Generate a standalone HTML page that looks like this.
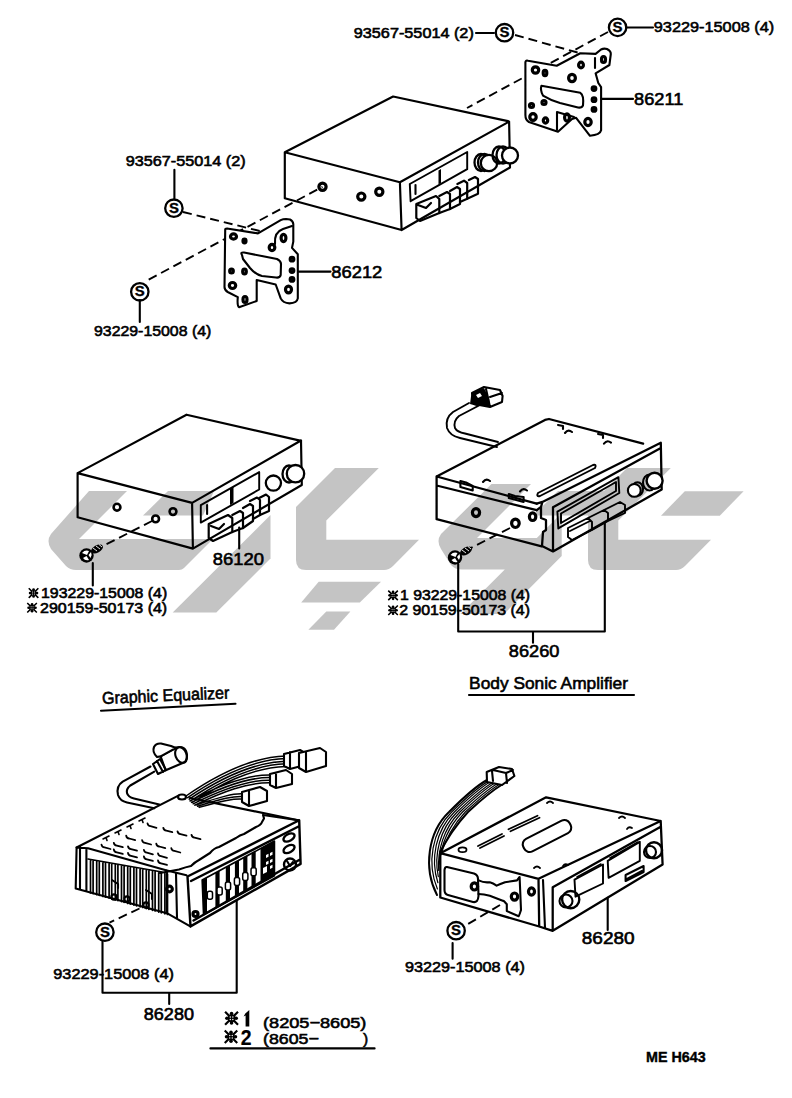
<!DOCTYPE html>
<html><head><meta charset="utf-8">
<style>
html,body{margin:0;padding:0;background:#fff;width:792px;height:1098px;overflow:hidden}
svg{display:block}
text{font-family:"Liberation Sans",sans-serif;font-weight:normal;fill:#000;stroke:#000;stroke-width:0.6px}
.l{fill:none;stroke:#000;stroke-width:2.1;stroke-linejoin:round;stroke-linecap:round}
.t{fill:none;stroke:#000;stroke-width:1.4;stroke-linejoin:round;stroke-linecap:round}
.d{fill:none;stroke:#000;stroke-width:1.9;stroke-dasharray:9 5}
.h{fill:none;stroke:#000;stroke-width:3.2}
.f{fill:#000;stroke:none}
text.s{font-weight:bold;stroke-width:0.3px}
.c{fill:none;stroke:#000;stroke-width:2.3}
.w{fill:#c4c4c4;stroke:none}
</style></head>
<body>
<svg width="792" height="1098" viewBox="0 0 792 1098">
<defs><symbol id="kome" viewBox="0 0 12 12"><path d="M1,1 L11,11 M11,1 L1,11" stroke="#000" stroke-width="1.7" fill="none"/><circle cx="6" cy="6" r="3.1" fill="#000"/><circle cx="6" cy="2.4" r="1.4" fill="#000"/><circle cx="6" cy="9.6" r="1.4" fill="#000"/><circle cx="2.4" cy="6" r="1.4" fill="#000"/><circle cx="9.6" cy="6" r="1.4" fill="#000"/><circle cx="5" cy="5" r="0.55" fill="#fff"/><circle cx="7" cy="5" r="0.55" fill="#fff"/><circle cx="5" cy="7" r="0.55" fill="#fff"/><circle cx="7" cy="7" r="0.55" fill="#fff"/></symbol></defs>
<rect width="792" height="1098" fill="#fff"/>
<!-- WATERMARK -->
<g class="w">
<path d="M89,491 L127,491 L79,539 L213,539 L184,568 Q182,570 179,570 L76,570 Q70,570 66,566 L51,549 Q46,541 51,534 Z"/>
<path d="M168,491 L214,491 L203,515.6 L143,515.6 Z"/>
<path d="M270.5,515 L270.5,558.6 L216.3,612.6 L172.7,612.6 Z"/>
<path d="M335,468 L378.8,468 L326.3,520.5 L326.3,539.8 L419,539.8 L393,566 Q389,570 384,570 L306,570 Q296,570 296,560 L296,507 Z"/>
<path d="M318.7,581.7 L381,581.7 L359.8,602.5 L301.2,602.5 Z"/>
<path d="M326.3,611.5 L350.4,611.5 L334,629.8 L308.4,629.8 Z"/>
<path d="M491.5,484 L531,484 L477,538 L536.8,538 L561.7,513 L561.7,556 L504,614 L460.3,614 L504.8,569.5 L462,569.5 Q455,569.5 451,565 L441,549 Q436,541 441,534 Z"/>
<path d="M558,491 L604,491 L593,515.6 L533,515.6 Z"/>
<path d="M627,468 L670.8,468 L618.3,520.5 L618.3,539.8 L711,539.8 L685,566 Q681,570 676,570 L598,570 Q588,570 588,560 L588,507 Z"/>
<path d="M684.8,491.2 L743.6,491.2 L719.8,515.7 L661,515.7 Z"/>
</g>

<!-- TOP SECTION -->
<g id="top">
<!-- labels -->
<text x="353.8" y="37.8" font-size="14.7" textLength="120" lengthAdjust="spacingAndGlyphs">93567-55014 (2)</text>
<path class="l" d="M476,33 L494,33"/>
<circle class="c" cx="504.5" cy="32.7" r="8.7"/>
<text class="s" x="504.5" y="37.3" font-size="15" text-anchor="middle">S</text>
<path class="d" d="M515,35 L590,56"/>
<text x="653.8" y="31.8" font-size="15.5" textLength="120.4" lengthAdjust="spacingAndGlyphs">93229-15008 (4)</text>
<circle class="c" cx="617.6" cy="27.4" r="8.7"/>
<text class="s" x="617.5" y="32.0" font-size="15" text-anchor="middle">S</text>
<path class="l" d="M626,27.5 L653,27.5"/>
<path class="d" d="M608,32 L467,108"/>

<text x="125.7" y="166" font-size="14.7" textLength="120" lengthAdjust="spacingAndGlyphs">93567-55014 (2)</text>
<path class="l" d="M174.4,169.8 L174.4,198.6"/>
<circle class="c" cx="173.9" cy="208.2" r="8.7"/>
<text class="s" x="173.9" y="212.8" font-size="15" text-anchor="middle">S</text>
<path class="d" d="M183,212 L276,235"/>
<circle class="c" cx="139.8" cy="291.8" r="8.7"/>
<text class="s" x="139.8" y="296.4" font-size="15" text-anchor="middle">S</text>
<path class="l" d="M139.8,300 L139.8,322"/>
<text x="94" y="336.2" font-size="15" textLength="117.3" lengthAdjust="spacingAndGlyphs">93229-15008 (4)</text>
<path class="d" d="M148.7,279.6 L322.5,186.8"/>

<!-- bracket 86212 -->
<path class="l" style="fill:#fff" d="M225.2,230 Q225,228.5 227,228.5 L258,233.4 L280.7,220.1 Q283,219 286,219 L290,219.5 Q293,221 293.3,224 L293.3,241.6 L292,247.9 L297.8,254.2 L297.8,298.4 Q297,303 289.5,303.4 Q283,303 280.7,298.4 L275.7,284.5 L256.7,280 L256.7,301 L239,307.2 Q237,306 237.8,297.1 L227.7,292 Q224.5,290 224.5,287 Z"/>
<path class="l" d="M242,255 Q240,252 244,252.5 L277,259 Q281,261 281,264 L280.7,275 Q280,278 276,277.5 L262,276 Q256,275 250,268 L243,259 Z"/>
<path class="l" d="M275,244 Q274,232 283,229 L292,226"/>
<g class="h">
<ellipse cx="233.5" cy="236.5" rx="3" ry="2.6"/><ellipse cx="244.5" cy="241" rx="1.5" ry="1.8"/>
<ellipse cx="272" cy="247.5" rx="2.8" ry="3.2"/><ellipse cx="283.5" cy="238" rx="2.4" ry="3.6"/>
<ellipse cx="231.5" cy="271" rx="1.8" ry="2"/><ellipse cx="244.5" cy="271.5" rx="1.8" ry="2.5"/>
<ellipse cx="232.5" cy="285.5" rx="3.2" ry="3"/><ellipse cx="245" cy="299.5" rx="2" ry="3"/>
<ellipse cx="292" cy="259.2" rx="1.8" ry="1.8"/><ellipse cx="292" cy="270.6" rx="1.8" ry="1.8"/><ellipse cx="292" cy="279.4" rx="1.8" ry="1.8"/>
<ellipse cx="288.5" cy="289.5" rx="3" ry="3.4"/>
</g>
<path class="l" d="M298,271.6 L330.5,271.6"/>
<text x="331.3" y="278.4" font-size="17" textLength="51" lengthAdjust="spacingAndGlyphs">86212</text>

<!-- radio box A -->
<path class="l" style="stroke-width:2.16" d="M284.8,152.3 L393.1,96.5 L508,121.1 M284.8,152.3 L399.9,182.3 L509.1,121.6 L510,167.5 L401.6,230 L399.9,182.3 M284.8,152.3 L284.8,198.3 L401.6,230"/>
<path class="l" style="stroke-width:1.92" d="M409.8,184 L467.2,152 L467.2,169.2 L410.6,201.2 Z"/>
<path class="f" d="M438.5,170.5 L441,169 L441,183 L438.5,184.5 Z"/>
<path class="l" d="M415.5,185 L415.5,194"/>
<g class="l" style="stroke-width:2.2">
<path d="M416.3,204 L436,196 L439.3,199 L439.3,213 L420,221 L416.3,218 Z M418,205 L426,208 L431,203"/>
<path d="M439.3,196 L447,192 L450,194 L450,209 L439.3,213"/>
<path d="M450,191 L457,187 L460,189 L460,204 L450,209"/>
<path d="M457.4,184 L464,180.7 L467.2,183 L467.2,198.7 L460,202"/>
<path d="M468.9,180 L475,177 L478,179 L478,193.8 L467.2,198.7"/>
</g>
<g class="l" style="stroke-width:2.3">
<ellipse cx="481" cy="162.5" rx="6.5" ry="8.5"/><ellipse cx="484.5" cy="162.5" rx="6.5" ry="8.5"/>
<circle cx="489" cy="163" r="8.2" fill="#fff"/>
<ellipse cx="499" cy="155" rx="6.5" ry="8.5"/><ellipse cx="503" cy="155" rx="6.5" ry="8.5"/>
<circle cx="510" cy="155.5" r="8" fill="#fff"/>
</g>
<g class="h"><circle cx="322.5" cy="186.8" r="3.6"/><circle cx="361.3" cy="196.6" r="3.6"/><circle cx="379.3" cy="191.7" r="3.6"/></g>

<!-- bracket 86211 -->
<path class="l" style="fill:#fff" d="M525.4,62 Q526,60 528,60.8 L556.7,65.7 L580.3,53.2 L595.6,53.9 L601,49.5 Q604,48 607,49 Q611,51 610.8,54 L609.4,65 L595.6,73.3 L598.3,83 L601.1,87.2 L601.1,130.3 Q600,135 590,135.8 L576.1,117.8 L572,119 L558,131.7 L528.9,122 Q525.4,120 525.4,115 Z"/>
<path class="l" d="M541.4,85.8 L580.3,92.8 Q584,95 583,105.3 Q582,108 578,107.5 L560,103 Q550,100 543,95.6 Q540,90 541.4,85.8 Z"/>
<path class="l" d="M595,58 L595,68 M557,112 L557,130 M557,112 L574,117"/>
<g class="h">
<ellipse cx="535.5" cy="70" rx="3.2" ry="3.2"/><ellipse cx="545" cy="73" rx="1.8" ry="2.6"/>
<ellipse cx="581" cy="65" rx="2.4" ry="2.8"/><ellipse cx="572" cy="78" rx="3.4" ry="3.6"/>
<ellipse cx="603.5" cy="59.5" rx="2" ry="3"/>
<ellipse cx="531.5" cy="105.5" rx="2" ry="2"/><ellipse cx="544" cy="102.5" rx="2" ry="2"/>
<ellipse cx="533" cy="117" rx="3.2" ry="3.4"/><ellipse cx="545.5" cy="120.5" rx="2.2" ry="2.6"/>
<ellipse cx="594" cy="88.6" rx="1.8" ry="1.8"/><ellipse cx="594" cy="99.7" rx="1.8" ry="1.8"/><ellipse cx="594" cy="109.4" rx="1.8" ry="1.8"/>
<ellipse cx="588" cy="122" rx="3.2" ry="3.6"/><ellipse cx="567" cy="117.5" rx="2.4" ry="3.6"/>
</g>
<path class="l" d="M601.3,98.9 L633,98.9"/>
<text x="634.1" y="104.6" font-size="16.8" textLength="49.3" lengthAdjust="spacingAndGlyphs">86211</text>
</g>

<!-- MIDDLE LEFT -->
<g id="midl">
<path class="l" style="stroke-width:2.16" d="M77.6,473.1 L186.5,414.7 L301.1,440.9 M77.6,473.1 L192.1,502.9 L301,440.5 L301.8,485 L192.9,548.6 L192.1,502.9 M77.6,473.1 L77.6,517.3 L192.9,548.6"/>
<path class="l" style="stroke-width:1.92" d="M200.8,505.2 L259.2,472.1 L259.2,489.5 L200.8,522.6 Z"/>
<path class="f" d="M230,488.5 L233.5,486.5 L233.5,503 L230,505 Z"/>
<path class="l" d="M207.1,505 L207.1,514"/>
<g class="l" style="stroke-width:2.2">
<path d="M208.7,524 L228,515 L232.3,518 L232.3,532 L213,541 L208.7,538 Z M211,526 L219,529 L224,524"/>
<path d="M232.3,515 L240,511 L243,513 L243,528 L232.3,532"/>
<path d="M243,508 L250,504 L253,506 L253,521 L243,528"/>
<path d="M250,501 L257,497.5 L260,500 L260,515 L253,519"/>
<path d="M259.2,498 L266,494.5 L269,497 L269,511 L260,515"/>
</g>
<g class="l" style="stroke-width:2.3">
<circle cx="273.4" cy="483.1" r="7.6"/>
<ellipse cx="289" cy="474" rx="6.5" ry="8.5"/>
<circle cx="295.5" cy="473.7" r="8.7" fill="#fff"/>
</g>
<g class="h" style="stroke-width:2.6"><circle cx="117" cy="507.2" r="3.4"/><circle cx="155.6" cy="518.9" r="3.4"/><circle cx="173" cy="511.6" r="3.4"/></g>
<path class="d" d="M152,521 L103,546"/>
<ellipse class="f" cx="97" cy="549" rx="6.5" ry="3.6" transform="rotate(-28 97 549)"/>
<path d="M93,548 l4,3 M96,546 l4,3 M99,544.5 l3,2.5" stroke="#fff" stroke-width="0.9"/>
<circle cx="86.5" cy="555.5" r="7.2" fill="#000"/>
<path d="M82,553 Q85,549.5 89,551 L87,555 Z M83,558 L86.5,556 L89,560 Q85,561 83,558 Z M88.5,555 L91,552 Q92.5,555 90.5,558 Z" fill="#fff"/>
<path class="l" d="M92.8,563 L92.8,585.5"/>
<use href="#kome" x="27.8" y="587.3" width="11.5" height="11.5"/><text x="41" y="598" font-size="14.5" textLength="126.2" lengthAdjust="spacingAndGlyphs">193229-15008 (4)</text>
<use href="#kome" x="26.3" y="602" width="11.5" height="11.5"/><text x="40" y="612.5" font-size="14.5" textLength="127.2" lengthAdjust="spacingAndGlyphs">290159-50173 (4)</text>
<path class="l" d="M239.2,527.6 L239.2,548.4"/>
<text x="212.7" y="564.8" font-size="17" textLength="51.2" lengthAdjust="spacingAndGlyphs">86120</text>
</g>

<!-- MIDDLE RIGHT -->
<g id="midr">
<!-- cable -->
<path class="l" style="stroke-width:1.9" d="M469,403 L453,412 Q445,418 447,428 Q450,436 460,438 L497,447 M479,405.5 L459,416 Q453,421 455,428 Q457,432 465,433.5 L498,442"/>
<path class="l" style="fill:#fff" d="M472,393 L484,387 L500,390 L502.6,396 L502,402 L490,407 L474,404 Z M486,389 L490,407 M490,397 L502,393"/>
<path class="f" d="M471.5,393 L484,388 L489,398 L490,406 L477,406 L470,404 Z"/>
<path d="M476,395 l4,-2 l2,3 l-4,2 Z" fill="#fff"/>
<!-- outline -->
<path class="l" style="stroke-width:2.28" d="M436.6,476.5 L545,419.9 L549,419 L643.1,443.6 M436.6,476.5 L436.6,519.2 L541.7,546.3 M436.6,476.5 L536.7,503.6 M436.6,485.5 L536.7,510.2"/>
<path class="l" style="stroke-width:2.28" d="M542.4,501.9 L660.8,442.7 L661.7,489.5 L553,551.4 L542,546 L543,532 L546,530 L546,520 L541,518 L541,507 Z M553,507.2 L660.8,448 M553,507.2 L553,551.4 M536.7,503.6 L542.4,501.9 M536.7,510.2 L541,507"/>
<path class="l" d="M460.4,481 L466,482.5 L472.7,486 L472.7,490.5 L460.4,487 Z M508.8,494 L515,496 L523.6,497 L523.6,502 L508.8,498 Z"/>
<path class="l" d="M483,482 q3,-4 7,-1 M520,491.5 q3,-4 7,-1 M565,433 q3,-4 7,-1 M604,443.6 q3,-4 7,-1 M558,425 l5,1 l0,3 M598,434 l5,1 l0,3"/>
<g class="h"><ellipse cx="476" cy="512.6" rx="3.6" ry="4"/><ellipse cx="515.4" cy="523.3" rx="3.8" ry="4.2"/><ellipse cx="532.6" cy="516.7" rx="3.2" ry="3.8"/></g>
<!-- top slot -->
<path class="l" style="stroke-width:1.92" d="M538,493 L593,465 Q597,464 595,468 L540,496 Q536,497 538,493 Z"/>
<!-- display -->
<path class="l" style="stroke-width:1.92" d="M557.4,511.6 L618.4,477.2 L619.3,493 L558.3,528.4 Z M561,513.5 L616,482 L616,491 L561,523 Z"/>
<path class="l" style="stroke-width:1.92" d="M568,528 L588,518 L592,522 L592,530 L572,540 L568,537 Z M588,518 L604,510 L608,513 L608,521 L592,530 M604,510 L620,502 L625,505 L625,513 L608,521 M570,531 L590,521"/>
<ellipse class="l" cx="637.5" cy="489" rx="5.5" ry="6.8"/>
<circle class="l" cx="634.3" cy="490.4" r="6.4" style="fill:#fff"/>
<ellipse class="l" cx="649.5" cy="482.5" rx="6.5" ry="8"/>
<circle class="l" cx="654.6" cy="480.7" r="8" style="stroke-width:2.4;fill:#fff"/>
<!-- bolt -->
<path class="d" d="M510,528 L465,551"/>
<ellipse class="f" cx="466" cy="551" rx="6.5" ry="3.6" transform="rotate(-28 466 551)"/>
<path d="M462,550 l4,3 M465,548 l4,3 M468,546.5 l3,2.5" stroke="#fff" stroke-width="0.9"/>
<circle cx="455" cy="557.5" r="7.2" fill="#000"/>
<path d="M450.5,555 Q453.5,551.5 457.5,553 L455.5,557 Z M451.5,560 L455,558 L457.5,562 Q453.5,563 451.5,560 Z M457,557 L459.5,554 Q461,557 459,560 Z" fill="#fff"/>
<path class="l" d="M458.2,564 L458.2,631.5 L604.8,631.5 L604.8,522 M533,631.5 L533,642.7"/>
<use href="#kome" x="387.3" y="589.6" width="11.5" height="11.5"/><text x="400" y="599.7" font-size="14.5" textLength="130" lengthAdjust="spacingAndGlyphs">1 93229-15008 (4)</text>
<use href="#kome" x="387.3" y="604.5" width="11.5" height="11.5"/><text x="399.2" y="614.8" font-size="14.5" textLength="130.8" lengthAdjust="spacingAndGlyphs">2 90159-50173 (4)</text>
<text x="508.8" y="657.3" font-size="17" textLength="50.6" lengthAdjust="spacingAndGlyphs">86260</text>
<text x="469.1" y="689" font-size="17" textLength="158.9" lengthAdjust="spacingAndGlyphs">Body Sonic Amplifier</text>
<path class="l" d="M469,695 L634,695"/>
<text x="0" y="0" font-size="17" textLength="127.3" lengthAdjust="spacingAndGlyphs" transform="translate(102.3,704) rotate(-2.5)">Graphic Equalizer</text>
<path class="l" d="M101,710.7 L235.5,703.8"/>
</g>

<!-- BOTTOM LEFT -->
<g id="botl">
<!-- antenna plug & cable -->
<path class="l" d="M150.5,766.5 L122.7,781.7 Q116,786 118,795 Q120,801 127,802.5 L154.3,808.2"/>
<path class="l" d="M154.3,771.6 L130.3,785.5 Q126,789 127,793 Q128,797 134,798.5 L159.3,804.4"/>
<path class="l" style="fill:#fff" d="M160.6,756.4 L175.8,747.6 Q186,745 187,755 Q187,763 183.3,762.7 L165.7,770.3 Z"/>
<ellipse class="l" cx="181" cy="755" rx="5.5" ry="8" transform="rotate(-20 181 755)"/>
<path class="l" style="fill:#fff" d="M157,757 Q152,752 154,747 Q156,743 161,743.5 L171,746 L176,748 L160.6,756.4 Z"/>
<path class="l" d="M153,764 L160,759 L166,770 L158,774 Z M157,761 L163,772"/>
<!-- harness -->
<path class="l" style="stroke-width:1.5" d="M186.0,796.0 C212.0,778.0 250.0,757.0 286.0,756.0 M187.6,797.6 C213.3,780.1 250.0,759.6 286.0,758.6 M189.2,799.2 C214.6,782.2 250.0,762.2 286.0,761.2 M190.8,800.8 C215.8,784.3 250.0,764.8 286.0,763.8 M192.4,802.4 C217.1,786.4 250.0,767.4 286.0,766.4 M190.0,801.0 C218.0,786.0 248.0,774.0 272.0,775.0 M191.6,802.4 C219.3,788.0 248.0,776.6 272.0,777.6 M193.2,803.8 C220.6,790.0 248.0,779.2 272.0,780.2 M194.8,805.2 C221.8,792.0 248.0,781.8 272.0,782.8 M196.0,805.0 C220.0,797.0 234.0,793.0 244.0,794.0 M197.6,806.2 C221.3,798.9 234.0,795.6 244.0,796.6 M199.2,807.4 C222.6,800.8 234.0,798.2 244.0,799.2"/>
<path class="l" style="fill:#fff" d="M284,754 L300,750 L305,753 L305,765 L290,769 L284,766 Z M290,752 L290,768"/>
<path class="l" style="fill:#fff" d="M299,753 L320,748 L326,752 L326,766 L306,772 L299,768 Z M306,752 L306,771"/>
<path class="l" style="fill:#fff" d="M270,774 L286,770 L292,774 L292,784 L276,788 L270,785 Z M276,773 L276,787"/>
<path class="l" style="fill:#fff" d="M242,792 L260,787 L267,791 L267,801 L249,806 L242,802 Z M249,791 L249,805"/>
<ellipse class="l" cx="182" cy="797" rx="4" ry="2.5"/>
<!-- top outline -->
<path class="l" d="M76.6,847.5 L178.4,795.6 M190,798 L298.3,820.3"/>
<!-- lid wavy front edge -->
<path class="l" d="M160,873 L179,869.5 Q186,867 191,866 Q195,862 199,860 L210,853 Q214,848 219,847 L236,838 Q240,835 244,834 L256,827 Q261,825 262,822 L264,818.4 L263,815 L298.3,820.3"/>
<!-- vents -->
<path class="l" style="stroke-width:1.8" d="M147.5,823.4 q0.5,2.5 3,2.8 l6,1.6 M163.3,827.8 q0.5,2.5 3,2.8 l6,1.6 M177.5,831.3 q0.5,2.5 3,2.8 l6,1.6 M191.5,834.8 q0.5,2.5 3,2.8 l6,1.6 M126.2,835.7 q0.5,2.5 3,2.8 l6,1.6 M142.1,840.1 q0.5,2.5 3,2.8 l6,1.6 M156.3,843.7 q0.5,2.5 3,2.8 l6,1.6 M171.3,848.1 q0.5,2.5 3,2.8 l6,1.6 M101.5,844.6 q0.5,2.5 3,2.8 l6,1.6 M113.8,842.8 q0.5,2.5 3,2.8 l6,1.6 M128.0,846.3 q0.5,2.5 3,2.8 l6,1.6 M143.9,849.9 q0.5,2.5 3,2.8 l6,1.6 M158.0,853.4 q0.5,2.5 3,2.8 l6,1.6 M113.8,849.5 q0.5,2.5 3,2.8 l6,1.6 M128.0,853.0 q0.5,2.5 3,2.8 l6,1.6 M143.9,856.5 q0.5,2.5 3,2.8 l6,1.6 M158.0,860.5 q0.5,2.5 3,2.8 l6,1.6 "/>
<path class="l" style="stroke-width:1.6" d="M103.0,839.0 l6,-3 M106,837.5 l1,3 M115.0,833.0 l6,-3 M118,831.5 l1,3 M127.0,827.0 l6,-3 M130,825.5 l1,3 M139.0,821.0 l6,-3 M142,819.5 l1,3 "/>
<!-- heat sink side -->
<path class="l" d="M76.6,847.5 L75.7,888.5 L166.9,913.2 L190.3,926.4 M80,846 L80,889 M86.4,849 L86.4,891 M76.6,847.5 L88,848.3 L166.9,870.5 L186.5,875.2"/>
<path class="t" style="stroke-width:1.7" d="M88,859 L162,872 M90.5,860.4 L90.5,892.9 M93.1,860.9 L93.1,893.6 M96.7,861.5 L96.7,894.6 M99.3,862.0 L99.3,895.3 M102.9,862.6 L102.9,896.4 M105.5,863.1 L105.5,897.1 M109.1,863.7 L109.1,898.1 M111.7,864.2 L111.7,898.8 M115.3,864.8 L115.3,899.9 M117.9,865.3 L117.9,900.6 M121.5,865.9 L121.5,901.6 M124.1,866.4 L124.1,902.3 M127.7,867.0 L127.7,903.4 M130.3,867.5 L130.3,904.1 M133.9,868.1 L133.9,905.1 M136.5,868.6 L136.5,905.8 M140.1,869.2 L140.1,906.8 M142.7,869.7 L142.7,907.5 M146.3,870.3 L146.3,908.6 M148.9,870.8 L148.9,909.3 M152.5,871.4 L152.5,910.3 M155.1,871.9 L155.1,911.0 M158.7,872.4 L158.7,912.1 M161.3,872.9 L161.3,912.8 M164.9,873.5 L164.9,913.8 M167.5,874.0 L167.5,914.5 "/>
<path class="l" d="M112,880 L118,884 L118,888 M146,890 L152,894 L152,899"/>
<circle class="l" cx="114" cy="897" r="2.6"/><circle class="l" cx="127" cy="899" r="2.6"/><circle class="l" cx="146" cy="905" r="2.6"/>
<path class="l" d="M166.9,870.5 L166.9,913.2 M176,873 L177,918"/>
<circle class="h" cx="169.5" cy="889" r="2.8"/>
<!-- front plate -->
<path class="l" style="stroke-width:2.4" d="M187.5,876.5 L299.2,820.3 L300.6,863.9 L190.5,926.4 Z M191,881 L298.5,826.5 M193.5,920.5 L300,859.5"/>
<path class="l" style="stroke-width:1.7" d="M202.2,880 L274.4,841.1 L274.4,875.8 L203.6,914.7 Z"/>
<path class="f" d="M203,879.6 L207,877.4 L207,912.1 L203,914.3 Z M215.4,872.9 L219.6,870.6 L219.6,905.3 L215.4,907.6 Z M225.8,867.3 L230,865.0 L230,899.7 L225.8,902.0 Z M234.9,862.4 L239,860.2 L239,894.9 L234.9,897.1 Z M243.2,857.9 L247.4,855.6 L247.4,890.3 L243.2,892.6 Z M251.5,853.4 L255.7,851.2 L255.7,885.9 L251.5,888.1 Z "/>
<path class="f" d="M260.5,848.6 L274.4,841.1 L274.4,875.8 L260.5,883.3 Z"/>
<path fill="#fff" d="M266,855 l2.5,-1.3 l0,3 l-2.5,1.3 Z M270,853 l2.5,-1.3 l0,3 l-2.5,1.3 Z M266,862 l2.5,-1.3 l0,3 l-2.5,1.3 Z M270,860 l2.5,-1.3 l0,3 l-2.5,1.3 Z M263,868 l4,-2 l0,6 l-4,2 Z M270,866 l2.5,-1.3 l0,3 l-2.5,1.3 Z"/>
<rect x="207.3" y="891.3" width="5.2" height="8" rx="2" class="l" style="fill:#fff;stroke-width:1.5"/><rect x="217.0" y="887" width="5.2" height="8" rx="2" class="l" style="fill:#fff;stroke-width:1.5"/><rect x="225.4" y="882" width="5.2" height="8" rx="2" class="l" style="fill:#fff;stroke-width:1.5"/><rect x="234.4" y="877.4" width="5.2" height="8" rx="2" class="l" style="fill:#fff;stroke-width:1.5"/><rect x="242.70000000000002" y="872.5" width="5.2" height="8" rx="2" class="l" style="fill:#fff;stroke-width:1.5"/><rect x="251.0" y="867.7" width="5.2" height="8" rx="2" class="l" style="fill:#fff;stroke-width:1.5"/>
<ellipse class="l" cx="289" cy="837.5" rx="6" ry="3.4" transform="rotate(-28 289 837.5)" style="stroke-width:2.4"/>
<ellipse class="l" cx="289" cy="849" rx="6" ry="3.4" transform="rotate(-28 289 849)" style="stroke-width:2.4"/>
<circle class="l" cx="290" cy="864.5" r="6" style="stroke-width:2.4"/>
<path class="l" d="M287,861 L290,866 L293,862"/>
<circle class="h" cx="195.5" cy="914" r="2.5"/>
<!-- fastener -->
<path class="d" d="M139.5,908.5 L109.5,922.6"/>
<circle class="c" cx="104.9" cy="932.2" r="8.7"/>
<text class="s" x="104.9" y="936.8" font-size="15" text-anchor="middle">S</text>
<path class="l" d="M102.5,941 L102.5,992.8 L236.7,992.8 L236.7,900 M169.2,992.8 L169.2,1003.9"/>
<text x="53.3" y="978.9" font-size="15" textLength="120.6" lengthAdjust="spacingAndGlyphs">93229-15008 (4)</text>
<text x="143.8" y="1019.5" font-size="16.5" textLength="50.2" lengthAdjust="spacingAndGlyphs">86280</text>
<use href="#kome" x="223.8" y="1010.5" width="15.5" height="15.5"/><path class="f" d="M245.3,1013.5 L249.3,1010 L249.3,1026.6 L245.6,1026.6 L245.6,1015.5 L243.6,1016.5 Z"/>
<text x="263" y="1027.8" font-size="15.5" textLength="103.4" lengthAdjust="spacingAndGlyphs">(8205−8605)</text>
<use href="#kome" x="223.5" y="1029" width="15" height="15.5"/><text x="240.8" y="1045.2" font-size="22" textLength="10.8" lengthAdjust="spacingAndGlyphs" style="font-weight:bold;stroke-width:0.2px">2</text>
<text x="263" y="1043.5" font-size="15.5" textLength="55.8" lengthAdjust="spacingAndGlyphs">(8605−</text>
<text x="363" y="1043.5" font-size="15.5">)</text>
<path class="l" d="M210.4,1048.4 L374.6,1048.4"/>
</g>

<!-- BOTTOM RIGHT -->
<g id="botr">
<!-- cable bundle -->
<path class="l" style="stroke-width:2.0" d="M437.0,895.0 C423.0,868.0 428.0,832.0 449.0,812.0 C464.0,797.0 476.0,786.0 487.0,780.0"/>
<path class="l" style="stroke-width:1.2" d="M437.4,888.9 C426.6,863.7 431.9,831.1 451.7,812.0 C466.6,797.3 478.4,786.6 489.3,780.6"/>
<path class="l" style="stroke-width:1.2" d="M437.9,882.7 C430.1,859.4 435.7,830.3 454.4,812.0 C469.1,797.6 480.9,787.1 491.6,781.1"/>
<path class="l" style="stroke-width:1.2" d="M438.3,876.6 C433.7,855.1 439.6,829.4 457.1,812.0 C471.7,797.9 483.3,787.7 493.9,781.7"/>
<path class="l" style="stroke-width:1.2" d="M438.7,870.4 C437.3,850.9 443.4,828.6 459.9,812.0 C474.3,798.1 485.7,788.3 496.1,782.3"/>
<path class="l" style="stroke-width:1.2" d="M439.1,864.3 C440.9,846.6 447.3,827.7 462.6,812.0 C476.9,798.4 488.1,788.9 498.4,782.9"/>
<path class="l" style="stroke-width:1.2" d="M439.6,858.1 C444.4,842.3 451.1,826.9 465.3,812.0 C479.4,798.7 490.6,789.4 500.7,783.4"/>
<path class="l" style="stroke-width:2.0" d="M440.0,852.0 C448.0,838.0 455.0,826.0 468.0,812.0 C482.0,799.0 493.0,790.0 503.0,784.0"/>
<path class="l" style="fill:#fff" d="M486.7,772 L499,767 L512,769 L514.4,776 L502,785 L487,782 Z M493,770 L506,773 L507,783 M506,773 L513,770 M492,771 L493,781"/>
<!-- outline -->
<path class="l" style="stroke-width:2.28" d="M440.3,853.2 L546.1,797.3 L660.7,821 M440.3,853.2 L538.5,878.8 L660.7,821 L662.6,864.5 L552.7,930.8 L539.2,926.5 L440.3,897.5 Z M538.5,878.8 L539.2,926.5 M552.7,887.3 L552.7,930.8 M552.7,887.3 L660.7,826.7"/>
<path class="l" d="M543,880 L545,928"/>
<!-- side cutout -->
<path class="l" d="M447,867 L474,873.5 Q478,875 478,879 L478.5,896 Q478,903 473,902 L448,895 Q444.5,894 444.5,890 L444.5,870 Q445,866.5 447,867 Z"/>
<path class="l" d="M478.7,880.4 Q484,883 489.8,882.2 Q493,883 496.6,885.6 Q500,884 505,882.2 L517,880.4 L519.6,877 L521,910 Q519,916 518.7,916.2 L506.8,911.1 L506.8,904.3 Q504,901 503.4,900.9 L489.8,895.8 Q484,894 478.5,894"/>
<g class="h"><ellipse cx="474.4" cy="886.4" rx="3.2" ry="3.6"/><ellipse cx="514.5" cy="896.6" rx="3.2" ry="3.6"/><ellipse cx="531.5" cy="891.5" rx="3" ry="3.6"/></g>
<!-- top slots -->
<path class="l" d="M478,846 L502,834 M480,848 L504,836" style="stroke-width:1.8"/>
<path class="l" d="M508.5,829.3 L537.5,815.7 M510.5,831.3 L539.5,817.7" style="stroke-width:1.8"/>
<rect class="l" x="521" y="829" width="52" height="14" rx="6" transform="rotate(-27 547 836)"/>
<g class="l" style="stroke-width:1.8">
<ellipse cx="462.5" cy="849.8" rx="4" ry="2.4"/>
<path d="M547,803 q3,-3 6,0 M619,818 q3,-3 6,0 M534,868 q3,-3 6,0 M627,829 q2,-3 5,-1 M563,866 q2,-3 5,-1"/>
</g>
<!-- front plate details -->
<path class="l" d="M574.5,879.7 L603,864.5 L603,883.5 L575.5,896.7 Z" style="stroke-width:1.92"/>
<path class="l" d="M607.7,860.8 L639.8,841.8 L639.8,860.8 L608.6,877.8 Z" style="stroke-width:1.92"/>
<path class="l" d="M577,877 L601,864 M610,858 L638,842" style="stroke-width:1.56"/>
<path class="l" d="M625.6,875 L643.6,866 L643.6,872 L625.6,881 Z M627,879 L642,871"/>
<circle class="l" cx="570.7" cy="899.6" r="8.6" style="stroke-width:2.4"/>
<circle class="l" cx="566" cy="901" r="6.5"/>
<circle class="l" cx="654" cy="850.3" r="8" style="stroke-width:2.4"/>
<circle class="l" cx="650" cy="852" r="6"/>
<!-- fastener -->
<path class="d" d="M500,905 L463,927"/>
<circle class="c" cx="456.1" cy="930.7" r="8.7"/>
<text class="s" x="456.1" y="935.3" font-size="15" text-anchor="middle">S</text>
<path class="l" d="M452.6,943 L452.6,958.7 M607.7,897.7 L607.7,930"/>
<text x="404.9" y="972.4" font-size="15" textLength="120.1" lengthAdjust="spacingAndGlyphs">93229-15008 (4)</text>
<text x="581.8" y="943.8" font-size="16.5" textLength="52.8" lengthAdjust="spacingAndGlyphs">86280</text>
<text x="646" y="1062.2" font-size="14.5" textLength="59.7" lengthAdjust="spacingAndGlyphs" style="font-weight:bold;stroke-width:0.4px">ME H643</text>
</g>
</svg>
</body></html>
